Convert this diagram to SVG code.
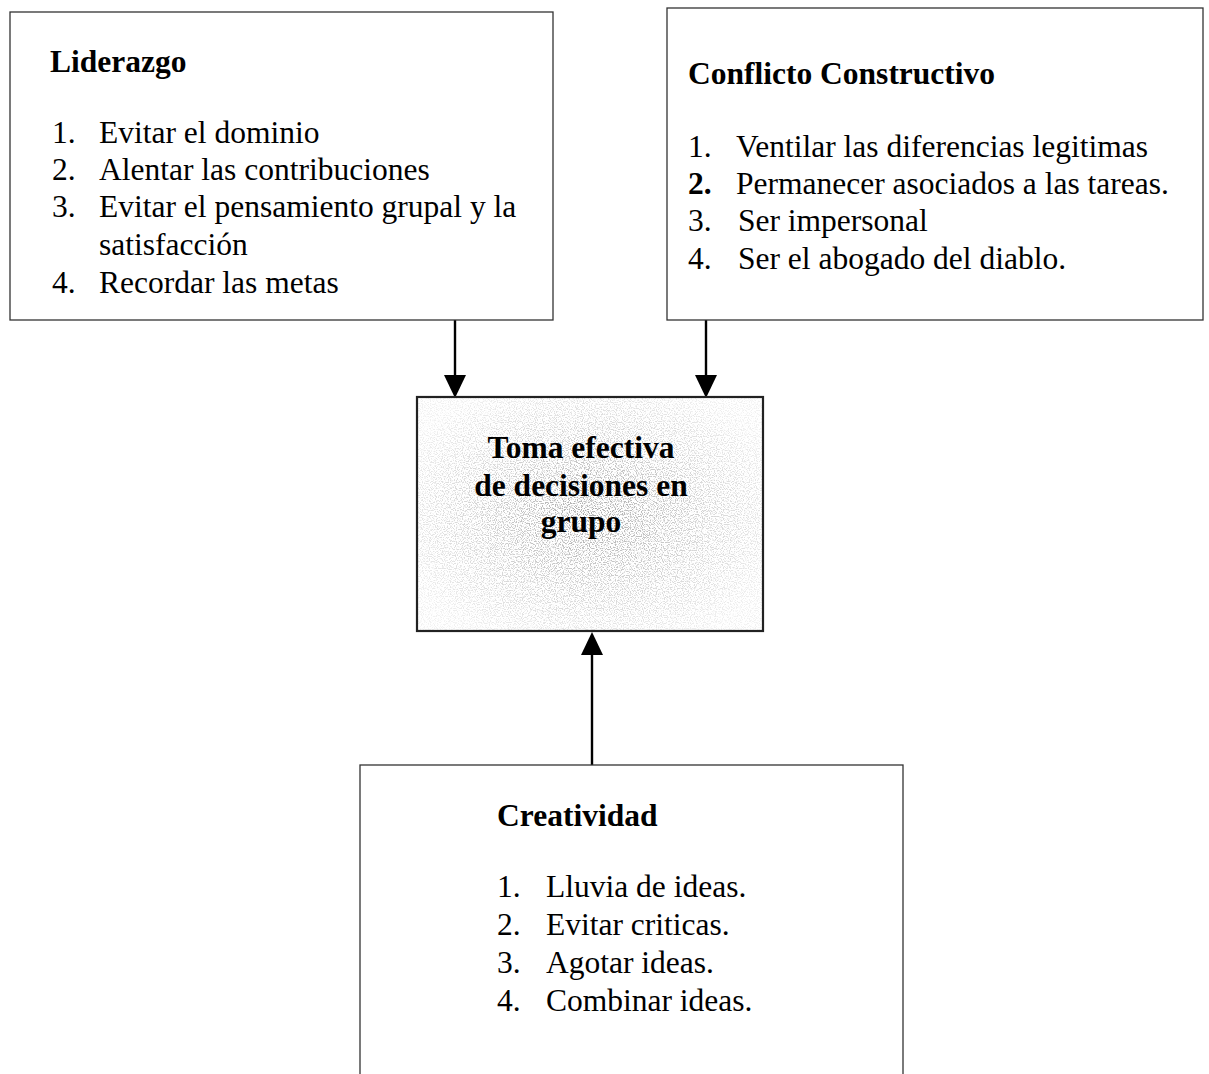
<svg xmlns="http://www.w3.org/2000/svg" width="1209" height="1074" viewBox="0 0 1209 1074">
  <style>
    .box { fill: #ffffff; stroke: #333333; stroke-width: 1.3; }
    .core { stroke: #222222; stroke-width: 2.2; }
    .title { font-family: "Liberation Serif", "Times New Roman", serif; font-weight: bold; font-size: 31.5px; fill: #000000; }
    .item { font-family: "Liberation Serif", "Times New Roman", serif; font-size: 31.5px; fill: #000000; }
    .num { font-family: "Liberation Serif", "Times New Roman", serif; font-size: 31.5px; fill: #000000; }
    .core-text { font-family: "Liberation Serif", "Times New Roman", serif; font-weight: bold; font-size: 31.5px; fill: #000000; text-anchor: middle; }
    .link { stroke: #000000; stroke-width: 2.4; fill: none; }
    .head { fill: #000000; }
  </style>
  <defs>
    <radialGradient id="shade" cx="0.5" cy="0.5" r="0.6">
      <stop offset="0" stop-color="#000" stop-opacity="0.9"/>
      <stop offset="0.55" stop-color="#000" stop-opacity="0.45"/>
      <stop offset="1" stop-color="#000" stop-opacity="0.15"/>
    </radialGradient>
    <!-- stippled grain, densest at the centre of the shape it is applied to -->
    <filter id="grain" x="0" y="0" width="100%" height="100%">
      <feTurbulence type="fractalNoise" baseFrequency="0.85" numOctaves="1" seed="7" result="n"/>
      <feColorMatrix in="n" type="matrix" values="0 0 0 0 0.35  0 0 0 0 0.35  0 0 0 0 0.35  -7 0 0 0 3.6" result="dots"/>
      <feComposite in="dots" in2="SourceGraphic" operator="in"/>
    </filter>
  </defs>

  <rect width="1209" height="1074" fill="#ffffff"/>

  <!-- connectors -->
  <g id="connectors">
    <line class="link" x1="455" y1="320" x2="455" y2="376"/>
    <polygon class="head" points="444,375 466,375 455,398"/>
    <line class="link" x1="706" y1="320" x2="706" y2="376"/>
    <polygon class="head" points="695,375 717,375 706,398"/>
    <line class="link" x1="592" y1="765" x2="592" y2="654"/>
    <polygon class="head" points="581,655 603,655 592,632"/>
  </g>

  <!-- Liderazgo -->
  <g id="node-liderazgo">
    <rect class="box" x="10" y="12" width="543" height="308"/>
    <text class="title" x="50" y="72">Liderazgo</text>
    <text class="num" x="52" y="143">1.</text>
    <text class="item" x="99" y="143">Evitar el dominio</text>
    <text class="num" x="52" y="180">2.</text>
    <text class="item" x="99" y="180">Alentar las contribuciones</text>
    <text class="num" x="52" y="217">3.</text>
    <text class="item" x="99" y="217">Evitar el pensamiento grupal y la</text>
    <text class="item" x="99" y="255">satisfacción</text>
    <text class="num" x="52" y="293">4.</text>
    <text class="item" x="99" y="293">Recordar las metas</text>
  </g>

  <!-- Conflicto Constructivo -->
  <g id="node-conflicto">
    <rect class="box" x="667" y="8" width="536" height="312"/>
    <text class="title" x="688" y="84">Conflicto Constructivo</text>
    <text class="num" x="688" y="157">1.</text>
    <text class="item" x="736" y="157">Ventilar las diferencias legitimas</text>
    <text class="num" x="688" y="194" font-weight="bold">2.</text>
    <text class="item" x="736" y="194">Permanecer asociados a las tareas.</text>
    <text class="num" x="688" y="231">3.</text>
    <text class="item" x="738" y="231">Ser impersonal</text>
    <text class="num" x="688" y="269">4.</text>
    <text class="item" x="738" y="269">Ser el abogado del diablo.</text>
  </g>

  <!-- central outcome -->
  <g id="node-toma">
    <rect x="417" y="397" width="346" height="234" fill="#ffffff"/>
    <rect x="417" y="397" width="346" height="234" fill="url(#shade)" filter="url(#grain)"/>
    <rect class="core" x="417" y="397" width="346" height="234" fill="none"/>
    <text class="core-text" x="581" y="458">Toma efectiva</text>
    <text class="core-text" x="581" y="496">de decisiones en</text>
    <text class="core-text" x="581" y="532">grupo</text>
  </g>

  <!-- Creatividad -->
  <g id="node-creatividad">
    <rect class="box" x="360" y="765" width="543" height="320"/>
    <text class="title" x="497" y="826">Creatividad</text>
    <text class="num" x="497" y="897">1.</text>
    <text class="item" x="546" y="897">Lluvia de ideas.</text>
    <text class="num" x="497" y="935">2.</text>
    <text class="item" x="546" y="935">Evitar criticas.</text>
    <text class="num" x="497" y="973">3.</text>
    <text class="item" x="546" y="973">Agotar ideas.</text>
    <text class="num" x="497" y="1011">4.</text>
    <text class="item" x="546" y="1011">Combinar ideas.</text>
  </g>
</svg>
